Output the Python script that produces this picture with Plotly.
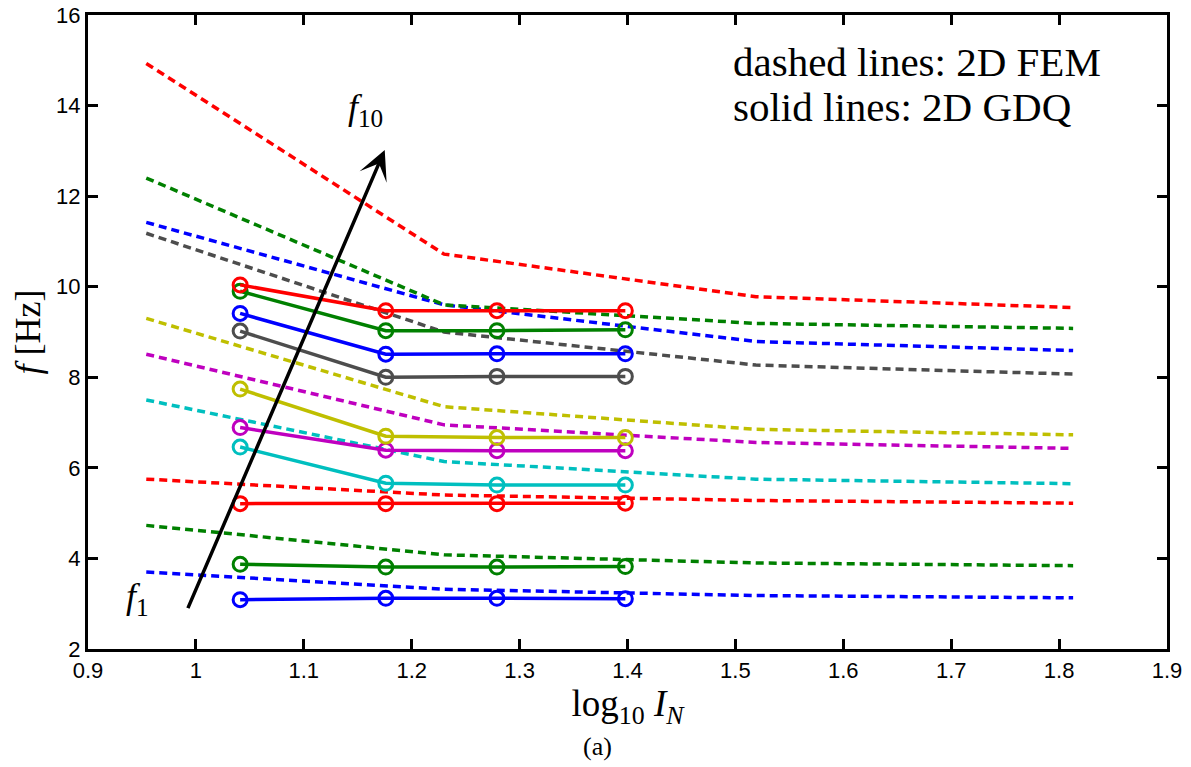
import plotly.graph_objects as go

# ---------------- data ----------------
# x positions (log10 of number of grid points / elements)
x_gdq = [1.041, 1.176, 1.279, 1.398]
x_fem = [0.954, 1.230, 1.519, 1.813]

mode_names = ["f1", "f2", "f3", "f4", "f5", "f6", "f7", "f8", "f9", "f10"]

# solid lines: 2D GDQ (Hz)
gdq_f1 = [3.09, 3.12, 3.12, 3.11]
gdq_f2 = [3.87, 3.81, 3.81, 3.82]
gdq_f3 = [5.21, 5.21, 5.21, 5.22]
gdq_f4 = [6.46, 5.66, 5.62, 5.62]
gdq_f5 = [6.89, 6.39, 6.38, 6.38]
gdq_f6 = [7.74, 6.70, 6.67, 6.67]
gdq_f7 = [9.02, 8.00, 8.02, 8.02]
gdq_f8 = [9.41, 8.51, 8.52, 8.52]
gdq_f9 = [9.90, 9.03, 9.03, 9.05]
gdq_f10 = [10.04, 9.47, 9.47, 9.47]

# dashed lines: 2D FEM (Hz)
fem_f1 = [3.70, 3.32, 3.18, 3.13]
fem_f2 = [4.73, 4.08, 3.90, 3.84]
fem_f3 = [5.75, 5.40, 5.28, 5.22]
fem_f4 = [7.50, 6.14, 5.75, 5.65]
fem_f5 = [8.51, 6.95, 6.56, 6.43]
fem_f6 = [9.30, 7.35, 6.85, 6.73]
fem_f7 = [11.18, 9.00, 8.27, 8.07]
fem_f8 = [11.42, 9.60, 8.79, 8.59]
fem_f9 = [12.40, 9.60, 9.19, 9.08]
fem_f10 = [14.93, 10.72, 9.78, 9.54]

x_tickvals = [0.9, 1.0, 1.1, 1.2, 1.3, 1.4, 1.5, 1.6, 1.7, 1.8, 1.9]
x_ticktext = ["0.9", "1", "1.1", "1.2", "1.3", "1.4", "1.5", "1.6", "1.7", "1.8", "1.9"]
y_tickvals = [2, 4, 6, 8, 10, 12, 14, 16]
y_ticktext = ["2", "4", "6", "8", "10", "12", "14", "16"]

# arrow (from f1 to f10) in data coordinates
arrow_tail = (0.992, 2.87)
arrow_head = (1.175, 13.02)

# ---------------- style ----------------
colors = ["#0000FF", "#008000", "#FF0000", "#00BFBF", "#BF00BF",
          "#BFBF00", "#4D4D4D", "#0000FF", "#008000", "#FF0000"]

gdq = [gdq_f1, gdq_f2, gdq_f3, gdq_f4, gdq_f5, gdq_f6, gdq_f7, gdq_f8, gdq_f9, gdq_f10]
fem = [fem_f1, fem_f2, fem_f3, fem_f4, fem_f5, fem_f6, fem_f7, fem_f8, fem_f9, fem_f10]

serif = "Liberation Serif"
sans = "Liberation Sans"

# the page body has an 8px default margin; size the figure to fill the window
PAGE_OFFSET = 8

fig = go.Figure()

for name, vals, c in zip(mode_names, fem, colors):
    fig.add_trace(go.Scatter(
        x=x_fem, y=vals, mode="lines", name=f"FEM {name}",
        line=dict(color=c, width=3.5, dash="8px,5px"),
        showlegend=False))

for name, vals, c in zip(mode_names, gdq, colors):
    fig.add_trace(go.Scatter(
        x=x_gdq, y=vals, mode="lines+markers", name=f"GDQ {name}",
        line=dict(color=c, width=3.5),
        marker=dict(symbol="circle-open", size=14, color=c,
                    line=dict(width=3, color=c)),
        showlegend=False))

annotations = [
    dict(x=arrow_head[0], y=arrow_head[1], ax=arrow_tail[0], ay=arrow_tail[1],
         xref="x", yref="y", axref="x", ayref="y", text="", showarrow=True,
         arrowhead=3, arrowsize=1.4, arrowwidth=3.5, arrowcolor="black", standoff=0),
    dict(x=1.157, y=13.92, xref="x", yref="y", showarrow=False,
         text="<i>f</i><sub>10</sub>", font=dict(family=serif, size=36, color="black")),
    dict(x=0.946, y=3.12, xref="x", yref="y", showarrow=False,
         text="<i>f</i><sub>1</sub>", font=dict(family=serif, size=36, color="black")),
    dict(x=1.496, y=14.96, xref="x", yref="y", showarrow=False, xanchor="left",
         text="dashed lines: 2D FEM", font=dict(family=serif, size=41, color="black")),
    dict(x=1.496, y=13.97, xref="x", yref="y", showarrow=False, xanchor="left",
         text="solid lines: 2D GDQ", font=dict(family=serif, size=41, color="black")),
    dict(x=0.472, y=-0.153, xref="paper", yref="paper", showarrow=False,
         yanchor="middle",
         text="(a)", font=dict(family=serif, size=26, color="black")),
]

fig.update_layout(
    width=1191 - PAGE_OFFSET, height=767 - PAGE_OFFSET, autosize=False,
    margin=dict(l=88 - PAGE_OFFSET, r=24, t=15 - PAGE_OFFSET, b=118, autoexpand=False),
    paper_bgcolor="white", plot_bgcolor="white",
    annotations=annotations,
    xaxis=dict(
        range=[0.9, 1.9], tickvals=x_tickvals, ticktext=x_ticktext,
        showgrid=False, zeroline=False, automargin=False,
        ticklabeloverflow="allow",
        showline=True, linecolor="black", linewidth=3, mirror="ticks",
        ticks="inside", ticklen=10, tickwidth=3, tickcolor="black",
        tickfont=dict(family=sans, size=22, color="black"),
        title=dict(text="log<sub>10</sub> <i>I<sub>N</sub></i>",
                   font=dict(family=serif, size=37, color="black"), standoff=0),
    ),
    yaxis=dict(
        range=[2, 16], tickvals=y_tickvals, ticktext=y_ticktext,
        showgrid=False, zeroline=False, automargin=False,
        ticklabeloverflow="allow",
        showline=True, linecolor="black", linewidth=3, mirror="ticks",
        ticks="inside", ticklen=10, tickwidth=3, tickcolor="black",
        tickfont=dict(family=sans, size=22, color="black"),
        title=dict(text="<i>f</i> [Hz]",
                   font=dict(family=serif, size=36, color="black"), standoff=5),
    ),
)

fig.write_html("out.html")
